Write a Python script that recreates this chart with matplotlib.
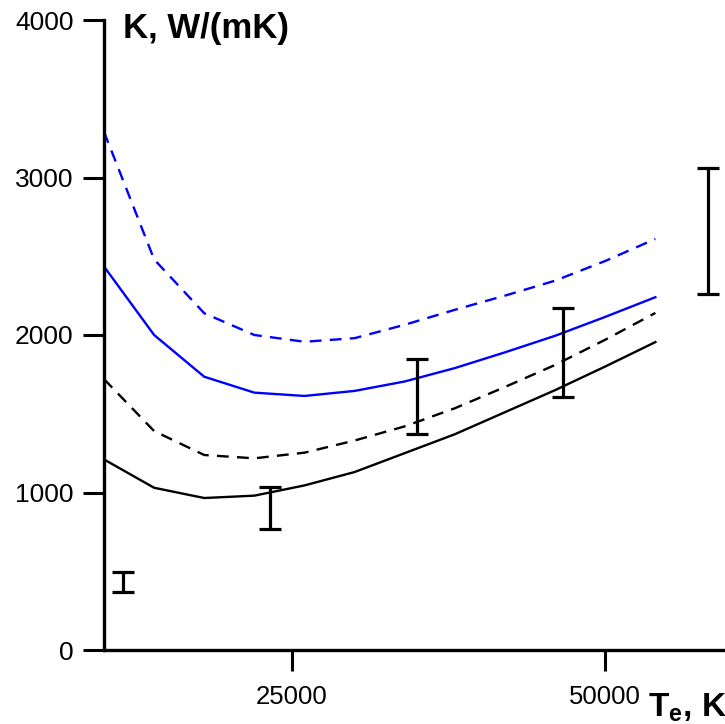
import matplotlib
matplotlib.use("Agg")
import matplotlib.pyplot as plt

plt.rcParams['font.family'] = ['Liberation Sans', 'DejaVu Sans']
plt.rcParams['mathtext.fontset'] = 'custom'
plt.rcParams['mathtext.bf'] = 'Liberation Sans:bold'
plt.rcParams['mathtext.rm'] = 'Liberation Sans'

# Data
T = [10000, 14000, 18000, 22000, 26000, 30000, 34000, 38000, 42000, 46000, 50000, 54000]
k_black_solid = [1210, 1030, 965, 980, 1045, 1130, 1250, 1370, 1510, 1650, 1800, 1955]
k_black_dashed = [1720, 1390, 1238, 1217, 1253, 1330, 1420, 1535, 1670, 1810, 1970, 2140]
k_blue_solid = [2435, 2000, 1735, 1634, 1613, 1645, 1705, 1790, 1890, 1995, 2115, 2240]
k_blue_dashed = [3290, 2480, 2138, 2000, 1957, 1980, 2065, 2160, 2250, 2345, 2470, 2610]

exp_T = [11540, 23250, 34950, 46600, 58220]
exp_low = [371, 766, 1369, 1604, 2260]
exp_high = [498, 1037, 1848, 2173, 3058]

xticks = [25000, 50000]
yticks = [0, 1000, 2000, 3000, 4000]

W, H = 725, 724
fig = plt.figure(figsize=(W / 100, H / 100), dpi=100)
ax_left = 104 / W
ax_bottom = (H - 650) / H
ax_h = 630 / H
ax_w = (50000 / 79.8) / W
ax = fig.add_axes([ax_left, ax_bottom, ax_w, ax_h])

blue = (0, 0, 1)
ax.plot(T, k_blue_dashed, color=blue, lw=1.7, linestyle=(0, (5, 3.5)))
ax.plot(T, k_blue_solid, color=blue, lw=1.7)
ax.plot(T, k_black_dashed, color='black', lw=1.7, linestyle=(0, (5, 3.5)))
ax.plot(T, k_black_solid, color='black', lw=1.7)

for x, lo, hi in zip(exp_T, exp_low, exp_high):
    c = (lo + hi) / 2
    e = (hi - lo) / 2
    ax.errorbar([x], [c], yerr=[[e], [e]], fmt='none', ecolor='black',
                elinewidth=2.3, capsize=8, capthick=2.3, clip_on=False)

ax.set_xlim(10000, 60000)
ax.set_ylim(0, 4000)
ax.set_xticks(xticks)
ax.set_xticklabels([str(v) for v in xticks])
ax.set_yticks(yticks)
ax.set_yticklabels([str(v) for v in yticks])

for s in ['top', 'right']:
    ax.spines[s].set_visible(False)
for s in ['left', 'bottom']:
    ax.spines[s].set_linewidth(2.4)
ax.tick_params(axis='both', direction='out', length=15, width=2.2)
ax.tick_params(axis='y', labelsize=19, pad=7)
ax.tick_params(axis='x', labelsize=18.5, pad=10)

fig.text(123 / W, 1 - 38 / H, "K, W/(mK)", fontsize=25, fontweight='bold',
         ha='left', va='baseline')
fig.text(648 / W, 1 - 717 / H, r"$\mathbf{T_e}$" + ", K", fontsize=24,
         fontweight='bold', ha='left', va='baseline')

fig.savefig("out.png", dpi=100)
